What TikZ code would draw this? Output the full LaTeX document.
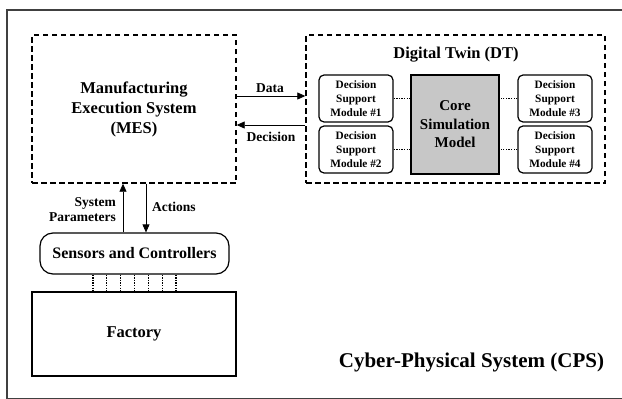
\documentclass[tikz,border=0pt]{standalone}
\usepackage{fontspec}
\setmainfont{Liberation Serif}
\usetikzlibrary{arrows.meta}

\tikzset{
  dashbox/.style={draw, dashed, dash pattern=on 5.5pt off 3.5pt, line width=1.4pt, inner sep=0pt},
  modbox/.style={draw, rounded corners=5pt, line width=1.2pt, minimum width=74pt, minimum height=47pt, inner sep=0pt, align=center,
    font=\fontsize{11.3}{13.8}\selectfont\bfseries},
  lbl/.style={font=\fontsize{13.5}{15}\selectfont\bfseries, inner sep=1pt},
  flow/.style={line width=0.8pt, -{Triangle[length=8pt,width=7pt]}},
  link/.style={dash pattern=on 1.3pt off 1.3pt, line width=1.2pt}
}

\begin{document}
\begin{tikzpicture}[x=1pt, y=-1pt]

      \useasboundingbox (0,0) rectangle (622,399);
      \draw[black!75, line width=1.6pt] (7,10) rectangle (640,398.5);

      \node[dashbox, minimum width=204pt, minimum height=148pt, align=center,
        font=\fontsize{16.5}{20}\selectfont\bfseries] (mes) at (134,109)
        {Manufacturing\\Execution System\\(MES)};
      \node[dashbox, minimum width=299pt, minimum height=148pt] (dt) at (455.5,109) {};
      \node[font=\fontsize{16.5}{20}\selectfont\bfseries] (dttitle) at (456,55) {Digital Twin (DT)};

      \node[modbox] (dsm1) at (356,98.5) {Decision\\Support\\Module \#1};
      \node[modbox] (dsm2) at (356,149.5) {Decision\\Support\\Module \#2};
      \node[modbox] (dsm3) at (555,98.5) {Decision\\Support\\Module \#3};
      \node[modbox] (dsm4) at (555,149.5) {Decision\\Support\\Module \#4};
      \node[draw, fill=black!22, line width=1.4pt, minimum width=88pt, minimum height=99pt, inner sep=0pt, align=center,
        font=\fontsize{15}{18.5}\selectfont\bfseries] (core) at (455,124.5) {Core\\Simulation\\Model};

      \draw[link] (dsm1.east) -- (dsm1.east -| core.west);
      \draw[link] (dsm2.east) -- (dsm2.east -| core.west);
      \draw[link] (dsm3.west) -- (dsm3.west -| core.east);
      \draw[link] (dsm4.west) -- (dsm4.west -| core.east);

      \draw[flow] ([yshift=13pt]mes.east) -- ([yshift=13pt]dt.west);
      \draw[flow] ([yshift=-16pt]dt.west) -- ([yshift=-16pt]mes.east);
      \node[lbl] (data) at (270,88) {Data};
      \node[lbl] (decision) at (271,137) {Decision};

      \node[draw, rounded corners=13pt, line width=1.2pt, minimum width=189pt, minimum height=41pt,
        font=\fontsize{16}{19}\selectfont\bfseries] (sen) at (134.5,253.5) {Sensors and Controllers};
      \node[draw, line width=1.2pt, minimum width=204pt, minimum height=84pt,
        font=\fontsize{16.5}{20}\selectfont\bfseries] (fac) at (134,334) {Factory};

      \coordinate (sp) at (123,0);
      \coordinate (act) at (146,0);
      \draw[flow] (sen.north -| sp) -- (mes.south -| sp);
      \draw[flow] (mes.south -| act) -- (sen.north -| act);
      \node[lbl, anchor=east, align=right] (sysparam) at (117,210) {System\\Parameters};
      \node[lbl, anchor=west] (actions) at (151,207) {Actions};

      \foreach \i in {0,...,6}
        \draw[link] (sen.south -| {93+13.83*\i},0) -- (fac.north -| {93+13.83*\i},0);

      \node[font=\fontsize{21}{25}\selectfont\bfseries] (cps) at (471.5,362) {Cyber-Physical System (CPS)};

    \end{tikzpicture}
\end{document}
